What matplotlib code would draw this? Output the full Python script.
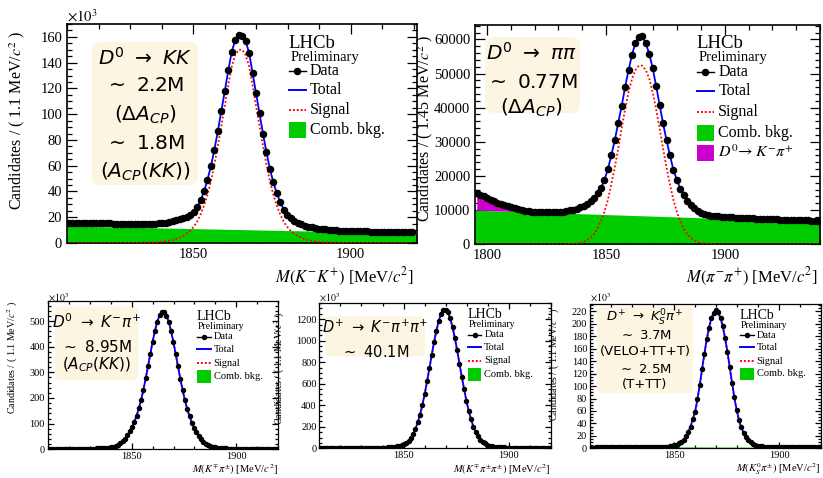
"""Five LHCb-style mass fit panels (D0 -> KK, pipi, Kpi; D+ -> Kpipi, KSpi)."""

import matplotlib.pyplot as plt
import numpy as np
from matplotlib.patches import FancyBboxPatch, Rectangle
from matplotlib.ticker import MultipleLocator

plt.rcParams["font.family"] = ["Liberation Serif", "DejaVu Serif"]
plt.rcParams["mathtext.fontset"] = "stix"

# ---- D0 -> K-K+ (1.1 MeV bins from 1810), counts in units of 10^3
kk_lo, kk_bin = 1810.0, 1.1
kk_counts = [
    15.8, 15.7, 15.7, 15.6, 15.6, 15.5, 15.5, 15.4, 15.4, 15.3,
    15.3, 15.2, 15.2, 15.1, 15.1, 15.0, 15.0, 15.0, 14.9, 14.9,
    14.9, 14.9, 14.9, 15.0, 15.0, 15.1, 15.3, 15.5, 15.9, 16.4,
    17.0, 17.7, 18.5, 19.4, 20.5, 22.0, 24.2, 27.8, 33.0, 40.0,
    49.0, 59.8, 72.5, 87.0, 102.5, 118.0, 134.0, 148.5, 157.5, 161.3,
    161.0, 157.0, 147.5, 132.0, 116.3, 100.7, 85.0, 70.5, 57.5, 47.0,
    38.5, 31.5, 26.0, 22.0, 19.2, 17.2, 15.6, 14.4, 13.4, 12.7,
    12.1, 11.6, 11.2, 10.9, 10.6, 10.3, 10.1, 9.9, 9.7, 9.6,
    9.5, 9.4, 9.3, 9.2, 9.1, 9.0, 9.0, 8.9, 8.9, 8.8,
    8.8, 8.7, 8.7, 8.6, 8.6, 8.6, 8.5, 8.5, 8.5, 8.4,
]
kk_signal = [
    0, 0, 0, 0, 0, 0, 0, 0, 0, 0,
    0, 0, 0, 0, 0, 0, 0.05, 0.05, 0.1, 0.1,
    0.15, 0.2, 0.25, 0.35, 0.45, 0.6, 0.8, 1.0, 1.4, 1.8,
    2.4, 3.2, 4.2, 5.5, 7.2, 9.5, 12.5, 16.5, 22.0, 29.0,
    37.5, 48.0, 61.0, 75.5, 91.0, 106.5, 122.5, 137.0, 146.0, 150.0,
    150.0, 146.0, 137.0, 122.5, 106.5, 91.0, 75.5, 61.0, 48.0, 37.5,
    29.0, 22.0, 16.5, 12.5, 9.5, 7.2, 5.5, 4.2, 3.2, 2.4,
    1.8, 1.4, 1.0, 0.8, 0.6, 0.45, 0.35, 0.25, 0.2, 0.15,
    0.1, 0.1, 0.05, 0.05, 0, 0, 0, 0, 0, 0,
    0, 0, 0, 0, 0, 0, 0, 0, 0, 0,
]
kk_comb = (13.2, 7.6)  # linear comb. bkg. at the two ends of the range

# ---- D0 -> pi-pi+ (1.45 MeV bins from 1795), counts in units of 10^3
pp_lo, pp_bin = 1795.0, 1.45
pp_counts = [
    15.0, 14.5, 14.0, 13.5, 13.0, 12.6, 12.2, 11.8, 11.4, 11.1,
    10.8, 10.5, 10.2, 10.0, 9.8, 9.7, 9.6, 9.5, 9.5, 9.4,
    9.4, 9.4, 9.4, 9.4, 9.5, 9.6, 9.7, 9.9, 10.1, 10.4,
    10.8, 11.3, 11.9, 12.6, 13.6, 14.9, 16.5, 18.8, 22.0, 26.0,
    30.5, 35.5, 40.5, 46.0, 51.0, 55.5, 59.0, 60.8, 60.9, 58.8,
    55.8, 51.5, 46.3, 40.8, 35.4, 30.5, 26.0, 21.8, 18.8, 16.3,
    14.3, 12.7, 11.5, 10.5, 9.8, 9.3, 8.9, 8.6, 8.4, 8.3,
    8.2, 8.1, 8.0, 7.9, 7.9, 7.8, 7.8, 7.7, 7.7, 7.6,
    7.6, 7.5, 7.5, 7.4, 7.4, 7.4, 7.3, 7.3, 7.2, 7.2,
    7.2, 7.1, 7.1, 7.1, 7.0, 7.0, 7.0, 6.9, 6.9, 6.9,
]
pp_signal = [
    0, 0, 0, 0, 0, 0, 0, 0, 0, 0,
    0, 0, 0, 0, 0, 0, 0, 0, 0, 0,
    0, 0, 0, 0, 0, 0, 0.05, 0.1, 0.15, 0.25,
    0.4, 0.7, 1.2, 1.9, 3.0, 4.6, 6.8, 9.5, 13.0, 17.5,
    22.5, 28.0, 34.0, 39.5, 44.5, 48.5, 51.0, 52.3, 52.3, 51.0,
    48.5, 44.5, 39.5, 34.0, 28.0, 22.5, 17.5, 13.0, 9.5, 6.8,
    4.6, 3.0, 1.9, 1.2, 0.7, 0.4, 0.25, 0.15, 0.1, 0.05,
    0, 0, 0, 0, 0, 0, 0, 0, 0, 0,
    0, 0, 0, 0, 0, 0, 0, 0, 0, 0,
    0, 0, 0, 0, 0, 0, 0, 0, 0, 0,
]
pp_misid = [4.3, 3.9, 3.5, 3.1, 2.7, 2.3, 2.0, 1.6, 1.3, 1.0,
            0.8, 0.6, 0.4, 0.2, 0.1, 0.0]  # D0 -> K-pi+ reflection, first bins
pp_comb = (10.0, 6.6)

# ---- bottom row: 1.1 MeV bins from 1810, counts in units of 10^3
low_lo, low_bin = 1810.0, 1.1
kpi_counts = [
    2.0, 2.0, 2.0, 2.0, 2.0, 2.1, 2.1, 2.1, 2.1, 2.2,
    2.2, 2.2, 2.3, 2.3, 2.4, 2.4, 2.5, 2.6, 2.7, 2.8,
    3.0, 3.3, 3.6, 4.0, 4.6, 5.4, 6.5, 8.0, 10, 13,
    17, 23, 31, 41, 54, 70, 87, 107, 130, 160,
    193, 233, 277, 325, 373, 420, 463, 498, 522, 535,
    536, 521, 496, 461, 418, 371, 323, 275, 231, 191,
    157, 128, 104, 84, 67, 52, 39, 29, 22, 16,
    12, 9.5, 7.5, 6.0, 5.0, 4.3, 3.7, 3.3, 3.0, 2.7,
    2.5, 2.4, 2.3, 2.2, 2.1, 2.0, 2.0, 1.9, 1.9, 1.8,
    1.8, 1.8, 1.7, 1.7, 1.7, 1.6, 1.6, 1.6, 1.5, 1.5,
]
kpi_comb = (1.6, 1.2)

kpipi_counts = [
    3.0, 3.0, 3.1, 3.1, 3.2, 3.2, 3.3, 3.3, 3.4, 3.4,
    3.5, 3.5, 3.6, 3.7, 3.8, 3.9, 4.0, 4.1, 4.3, 4.4,
    4.6, 4.8, 5.0, 5.2, 5.5, 5.8, 6.2, 6.7, 7.4, 8.3,
    9.5, 11.5, 14, 18, 23, 30, 40, 52, 70, 95,
    130, 180, 245, 314, 405, 508, 622, 742, 866, 985,
    1091, 1180, 1246, 1283, 1288, 1263, 1207, 1126, 1025, 910,
    787, 664, 548, 441, 346, 270, 200, 150, 110, 80,
    60, 45, 34, 26, 20, 16, 12.5, 10.5, 9.0, 8.0,
    7.2, 6.6, 6.1, 5.7, 5.4, 5.1, 4.9, 4.7, 4.5, 4.3,
    4.2, 4.0, 3.9, 3.8, 3.7, 3.6, 3.5, 3.4, 3.3, 3.3,
]
kpipi_comb = (3.0, 2.4)

kspi_counts = [
    1.3, 1.3, 1.4, 1.4, 1.4, 1.5, 1.5, 1.5, 1.6, 1.6,
    1.6, 1.7, 1.7, 1.7, 1.8, 1.8, 1.8, 1.9, 1.9, 1.9,
    1.9, 2.0, 2.0, 2.0, 2.0, 2.0, 2.0, 2.0, 2.0, 2.0,
    2.1, 2.2, 2.4, 2.6, 3.0, 3.6, 4.6, 6.0, 8.0, 10.5,
    14, 19, 26, 35, 47, 59, 79, 102, 127, 152,
    175, 194, 209, 218, 223, 219, 210, 196, 177, 155,
    130, 105, 82, 61, 46, 34, 25, 18.5, 13.5, 10,
    7.6, 5.8, 4.5, 3.6, 3.0, 2.7, 2.5, 2.4, 2.3, 2.2,
    2.1, 2.0, 2.0, 1.9, 1.9, 1.8, 1.8, 1.8, 1.7, 1.7,
    1.7, 1.7, 1.6, 1.6, 1.6, 1.6, 1.5, 1.5, 1.5, 1.5,
]
kspi_comb = (2.4, 1.6)

BLUE, RED, GREEN, MAGENTA = "#0000ff", "#ff0000", "#00cc00", "#cc00cc"
CREAM = "#fcf5e1"


def bin_centres(lo, width, n):
    return lo + width * (np.arange(n) + 0.5)


def style_axes(ax, xlim, ylim, xmaj, xmin, ymaj, ymin, size, big):
    ax.set_xlim(*xlim)
    ax.set_ylim(*ylim)
    ax.xaxis.set_major_locator(MultipleLocator(xmaj))
    ax.xaxis.set_minor_locator(MultipleLocator(xmin))
    ax.yaxis.set_major_locator(MultipleLocator(ymaj))
    ax.yaxis.set_minor_locator(MultipleLocator(ymin))
    ax.ticklabel_format(axis="y", style="plain", useOffset=False)
    ax.tick_params(which="both", direction="in", top=True, right=True,
                   labelsize=size, width=0.9, pad=3.5 if big else 2)
    ax.tick_params(which="major", length=7 if big else 4.5)
    ax.tick_params(which="minor", length=3.5 if big else 2.3)
    for s in ax.spines.values():
        s.set_linewidth(1.2 if big else 0.9)


def axis_titles(ax, ytitle, yxy, ysize, xtitle, xxy, xsize):
    ax.text(yxy[0], yxy[1], ytitle, transform=ax.transAxes, rotation=90,
            ha="center", va="center", fontsize=ysize)
    ax.text(xxy[0], xxy[1], xtitle, transform=ax.transAxes, ha="right",
            va="center", fontsize=xsize)


def info_box(ax, box, lines, xc, ys, size):
    x0, x1, y0, y1 = box
    ax.add_patch(FancyBboxPatch((x0, y0), x1 - x0, y1 - y0,
                                boxstyle="round,pad=0,rounding_size=0.03",
                                transform=ax.transAxes, fc=CREAM, ec="none",
                                zorder=1))
    for txt, y in zip(lines, ys):
        ax.text(xc, y, txt, transform=ax.transAxes, ha="center", va="center",
                fontsize=size, family="DejaVu Sans",
                math_fontfamily="dejavusans", zorder=2)


def lhcb_legend(ax, x, y_lhcb, y_prel, entries, ys, sizes, ms, hw, hh):
    lhcb_size, prel_size, entry_size = sizes
    tr = ax.transAxes
    ax.text(x, y_lhcb, "LHCb", transform=tr, fontsize=lhcb_size,
            ha="left", va="center")
    ax.text(x + 0.005, y_prel, "Preliminary", transform=tr,
            fontsize=prel_size, ha="left", va="center")
    for (label, kind, colour), y in zip(entries, ys):
        if kind == "data":
            ax.plot([x, x + hw], [y, y], color="k", lw=1, transform=tr)
            ax.plot([x + hw / 2], [y], "o", color="k", ms=ms, transform=tr)
        elif kind == "line":
            ax.plot([x, x + hw], [y, y], color=colour, lw=1.4, transform=tr)
        elif kind == "dot":
            ax.plot([x, x + hw], [y, y], color=colour, lw=1.4,
                    ls=(0, (1, 1)), transform=tr)
        else:
            ax.add_patch(Rectangle((x, y - hh / 2), hw, hh, transform=tr,
                                   fc=colour, ec="none"))
        ax.text(x + hw + 0.012, y, label, transform=tr, fontsize=entry_size,
                ha="left", va="center")


def draw_fit(ax, lo, width, counts, signal, comb, xlim, ms, misid=None):
    mass = bin_centres(lo, width, len(counts))
    counts = np.asarray(counts, float)
    ax.fill_between(xlim, [0, 0], comb, color=GREEN, lw=0, zorder=2)
    if misid is not None:
        m_x = mass[:len(misid)]
        base = np.interp(m_x, xlim, comb)
        ax.fill_between(m_x, base, base + np.asarray(misid), color=MAGENTA,
                        lw=0, zorder=2)
    ax.plot(mass, signal, color=RED, lw=1.3, ls=(0, (1, 1.2)), zorder=3)
    ax.plot(mass, counts, color=BLUE, lw=1.3, zorder=3)
    ax.plot(mass, counts, "o", color="k", ms=ms, zorder=4)


fig = plt.figure(figsize=(8.23, 4.78), dpi=100)

# ---------------- top left: D0 -> KK
ax1 = fig.add_axes([0.0814, 0.4916, 0.4253, 0.4582])
draw_fit(ax1, kk_lo, kk_bin, kk_counts, kk_signal, kk_comb, (1810, 1921), 4.4)
style_axes(ax1, (1810, 1921), (0, 170), 50, 10, 20, 5, 10.5, True)
axis_titles(ax1, "Candidates / ( 1.1 MeV/$c^{2}$ )", (-0.143, 0.56), 11.5,
            "$M(K^{-}K^{+})$ [MeV/$c^{2}$]", (0.99, -0.155), 12)
ax1.text(0.0, 1.035, r"$\times10^{3}$", transform=ax1.transAxes, fontsize=10.5,
         ha="left", va="center")
info_box(ax1, (0.071, 0.374, 0.265, 0.918),
         [r"$D^0\ \rightarrow\ KK$", r"$\sim$ 2.2M", r"$(\Delta A_{CP})$",
          r"$\sim$ 1.8M", r"$(A_{CP}(KK))$"],
         0.223, [0.844, 0.717, 0.584, 0.455, 0.325], 14.5)
lhcb_legend(ax1, 0.634, 0.912, 0.849,
            [("Data", "data", "k"), ("Total", "line", BLUE),
             ("Signal", "dot", RED), ("Comb. bkg.", "box", GREEN)],
            [0.786, 0.699, 0.607, 0.516], (13.5, 10.5, 11.5), 4.4, 0.048,
            0.07)

# ---------------- top right: D0 -> pipi
ax2 = fig.add_axes([0.5772, 0.4889, 0.4192, 0.4588])
draw_fit(ax2, pp_lo, pp_bin, pp_counts, pp_signal, pp_comb, (1795, 1940), 4.4,
         misid=pp_misid)
style_axes(ax2, (1795, 1940), (0, 64.2), 50, 10, 10, 2, 10.5, True)
ax2.yaxis.set_major_formatter(plt.FuncFormatter(lambda v, p: f"{v * 1000:.0f}"))
axis_titles(ax2, "Candidates / ( 1.45 MeV/$c^{2}$ )", (-0.145, 0.53), 11.5,
            r"$M(\pi^{-}\pi^{+})$ [MeV/$c^{2}$]", (0.994, -0.148), 12)
info_box(ax2, (0.029, 0.304, 0.599, 0.945),
         [r"$D^0\ \rightarrow\ \pi\pi$", r"$\sim$ 0.77M", r"$(\Delta A_{CP})$"],
         0.164, [0.872, 0.740, 0.621], 14.5)
lhcb_legend(ax2, 0.643, 0.915, 0.852,
            [("Data", "data", "k"), ("Total", "line", BLUE),
             ("Signal", "dot", RED), ("Comb. bkg.", "box", GREEN),
             (r"$D^{0}\!\rightarrow K^{-}\pi^{+}$", "box", MAGENTA)],
            [0.786, 0.699, 0.603, 0.508, 0.417], (13.5, 10.5, 11.5), 4.4,
            0.05, 0.07)

# ---------------- bottom row
low_panels = [
    dict(rect=[0.058, 0.060, 0.2802, 0.3103], counts=kpi_counts,
         comb=kpi_comb, ylim=(0, 578), ymaj=100, ymin=20,
         xlabel=r"$M(K^{\mp}\pi^{\pm})$ [MeV/$c^{2}$]", xl_y=-0.138,
         ylab_xy=(-0.150, 0.616), ten_y=1.02,
         box=(0.032, 0.392, 0.467, 0.962),
         lines=[r"$D^0\ \rightarrow\ K^{-}\pi^{+}$", r"$\sim$ 8.95M",
                r"$(A_{CP}(KK))$"],
         box_xc=0.212, box_ys=[0.860, 0.692, 0.568], box_size=11,
         leg_x=0.647, leg_y=(0.895, 0.828)),
    dict(rect=[0.388, 0.0621, 0.2815, 0.304], counts=kpipi_counts,
         comb=kpipi_comb, ylim=(0, 1350), ymaj=200, ymin=50,
         xlabel=r"$M(K^{\mp}\pi^{\pm}\pi^{\pm})$ [MeV/$c^{2}$]", xl_y=-0.148,
         ylab_xy=(-0.170, 0.55), ten_y=1.035,
         box=(0.025, 0.456, 0.632, 0.908),
         lines=[r"$D^{+}\ \rightarrow\ K^{-}\pi^{+}\pi^{+}$", r"$\sim$ 40.1M"],
         box_xc=0.240, box_ys=[0.832, 0.666], box_size=10.5,
         leg_x=0.640, leg_y=(0.922, 0.849)),
    dict(rect=[0.7169, 0.0621, 0.2807, 0.3019], counts=kspi_counts,
         comb=kspi_comb, ylim=(0, 232), ymaj=20, ymin=5,
         xlabel=r"$M(K^{0}_{S}\pi^{\pm})$ [MeV/$c^{2}$]", xl_y=-0.145,
         ylab_xy=(-0.152, 0.58), ten_y=1.04,
         box=(0.029, 0.447, 0.381, 0.981),
         lines=[r"$D^{+}\ \rightarrow\ K^{0}_{S}\pi^{+}$", r"$\sim$ 3.7M",
                "(VELO+TT+T)", r"$\sim$ 2.5M", "(T+TT)"],
         box_xc=0.238, box_ys=[0.905, 0.785, 0.674, 0.543, 0.439],
         box_size=9.5, leg_x=0.649, leg_y=(0.922, 0.853)),
]

for p in low_panels:
    ax = fig.add_axes(p["rect"])
    counts = np.asarray(p["counts"], float)
    mass = bin_centres(low_lo, low_bin, len(counts))
    signal = counts - np.interp(mass, (1810, 1920), p["comb"])
    draw_fit(ax, low_lo, low_bin, counts, signal, p["comb"], (1810, 1920), 2.9)
    style_axes(ax, (1810, 1920), p["ylim"], 50, 10, p["ymaj"], p["ymin"],
               7.5, False)
    axis_titles(ax, "Candidates / ( 1.1 MeV/$c^{2}$ )", p["ylab_xy"], 7.2,
                p["xlabel"], (1.0, p["xl_y"]), 7.6)
    ax.text(0.0, p["ten_y"], r"$\times10^{3}$", transform=ax.transAxes,
            fontsize=7, ha="left", va="center")
    info_box(ax, p["box"], p["lines"], p["box_xc"], p["box_ys"],
             p["box_size"])
    lhcb_legend(ax, p["leg_x"], p["leg_y"][0], p["leg_y"][1],
                [("Data", "data", "k"), ("Total", "line", BLUE),
                 ("Signal", "dot", RED), ("Comb. bkg.", "box", GREEN)],
                [p["leg_y"][1] - 0.068, p["leg_y"][1] - 0.153,
                 p["leg_y"][1] - 0.248, p["leg_y"][1] - 0.338],
                (10, 7, 7.5), 2.9, 0.06, 0.09)

fig.savefig("out.png", dpi=100)
